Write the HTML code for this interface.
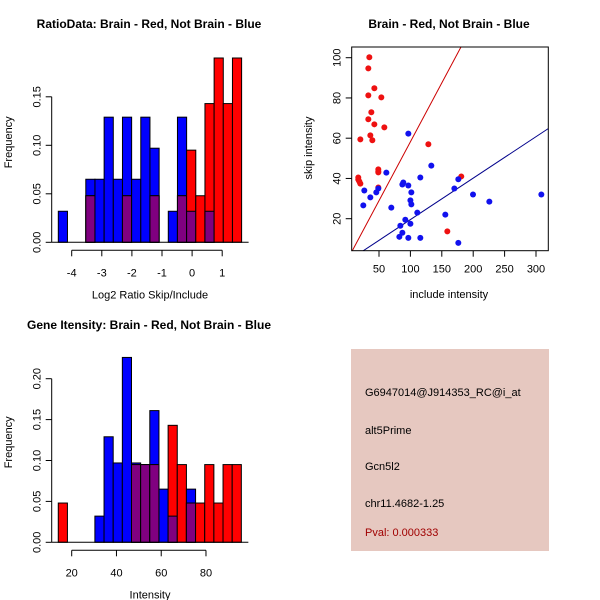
<!DOCTYPE html>
<html><head><meta charset="utf-8"><style>
html,body{margin:0;padding:0;background:#fff}
svg{display:block;font-family:"Liberation Sans",sans-serif}
</style></head><body>
<svg id="root" width="600" height="600" viewBox="0 0 600 600" xmlns="http://www.w3.org/2000/svg">
<rect width="600" height="600" fill="#fff"/>
<g id="p1"></g>
<g id="p2"></g>
<g id="p3"></g>
<g>
<rect x="351" y="349" width="198" height="202" fill="#e6c8c0"/>
<text x="365" y="396" font-size="11" fill="#000">G6947014@J914353_RC@i_at</text>
<text x="365" y="434" font-size="11" fill="#000">alt5Prime</text>
<text x="365" y="470" font-size="11" fill="#000">Gcn5l2</text>
<text x="365" y="507" font-size="11" fill="#000">chr11.4682-1.25</text>
<text x="365" y="536" font-size="11" fill="#a00000">Pval: 0.000333</text>
</g>
</svg>
<script>
const NS="http://www.w3.org/2000/svg";
// ---- Ratio histogram data ----
const ratioBinStart=-4.445, ratioBinWidth=0.3045;
const ratioBlue=[0.032,0,0,0.065,0.065,0.129,0.065,0.129,0.065,0.129,0.097,0,0.032,0.129,0.032,0,0.032,0,0,0];
const ratioRed=[0,0,0,0.048,0,0,0,0.048,0,0,0.048,0,0,0.048,0.095,0.048,0.143,0.19,0.143,0.19];
const ratioXTicks=[-4,-3,-2,-1,0,1];
const ratioYTicks=[0,0.05,0.10,0.15];
// ---- Intensity histogram data ----
const intBinStart=14.0, intBinWidth=4.09;
const intBlue=[0,0,0,0,0.032,0.129,0.097,0.226,0.097,0.095,0.161,0.065,0.032,0,0.065,0,0,0,0,0];
const intRed=[0.048,0,0,0,0,0,0,0,0.095,0.095,0.095,0,0.143,0.095,0.048,0.048,0.095,0.048,0.095,0.095];
const intXTicks=[20,40,60,80];
const intYTicks=[0,0.05,0.10,0.15,0.20];
// ---- Scatter data ----
const redInclude=[34.6,33,42.6,33,53.7,37.8,33,42.6,58.5,20.3,36.2,39.4,128.6,48.9,48.9,48.9,48.9,17,17,18.7,20.3,181,158.8];
const redSkip=[100.2,94.7,84.8,81.3,80.3,72.9,69.4,66.9,65.4,59.4,61.4,59,57,44.5,43.5,43,35.5,40.5,39.5,38.5,37.4,41,13.7];
const blueInclude=[96.7,133.3,61.7,115.8,88.7,87.2,96.7,26.6,48.9,45.7,101.5,36.2,100,101.5,25,69.6,111,176.3,170,199.7,225.7,308.5,155.6,91.9,100,84,87.2,82.4,96.7,115.8,176.3];
const blueSkip=[62.3,46.4,42.9,40.5,38,37,36.5,34,35,33.1,33.1,30.6,29.1,27.1,26.6,25.5,23,39.6,35,32,28.5,32,22,19.5,17.5,16.5,13,11,10.5,10.5,8];
const redFit=[-0.29,0.585]; // intercept, slope
const blueFit=[-1.06,0.206];
const scatXTicks=[50,100,150,200,250,300];
const scatYTicks=[20,40,60,80,100];

function mk(parent,tag,attrs){const e=document.createElementNS(NS,tag);for(const k in attrs)e.setAttribute(k,attrs[k]);parent.appendChild(e);return e;}
function txt(parent,x,y,s,size,extra){const t=mk(parent,'text',Object.assign({x:x,y:y,'font-size':size,'text-anchor':'middle',fill:'#000'},extra||{}));t.textContent=s;return t;}

function hist(gid,o){
 const g=document.getElementById(gid);
 const xs=v=>o.x0px+(v-o.x0)*o.xpu, ys=v=>o.basePx-v*o.ypu;
 const n=o.blue.length;
 for(let i=0;i<n;i++){
  const a=xs(o.start+i*o.w), b=xs(o.start+(i+1)*o.w);
  const bv=o.blue[i], rv=o.red[i], m=Math.min(bv,rv);
  if(bv>0){const r=mk(g,'rect',{x:a,y:ys(bv),width:b-a,height:ys(0)-ys(bv),fill:'#0000ff',stroke:'#000','stroke-width':1});
   
   }
  if(rv>0){const r=mk(g,'rect',{x:a,y:ys(rv),width:b-a,height:ys(0)-ys(rv),fill:'#ff0000',stroke:'#000','stroke-width':1});
   
   }
  if(m>0){const r=mk(g,'rect',{x:a,y:ys(m),width:b-a,height:ys(0)-ys(m),fill:'#800080',stroke:'#000','stroke-width':1});
   
   }
 }
 mk(g,'line',{x1:o.axisX,y1:ys(0),x2:xs(o.start+n*o.w)+7,y2:ys(0),stroke:'#000'});
 mk(g,'line',{x1:o.axisX,y1:ys(0),x2:o.axisX,y2:ys(o.yt[o.yt.length-1]),stroke:'#000'});
 o.yt.forEach(v=>{mk(g,'line',{x1:o.axisX-6,y1:ys(v),x2:o.axisX,y2:ys(v),stroke:'#000'});
  const t=txt(g,0,0,v.toFixed(2),11,{transform:`translate(${o.axisX-11},${ys(v)}) rotate(-90)`});
  
  });
 const ay=o.basePx+8;
 mk(g,'line',{x1:xs(o.xt[0]),y1:ay,x2:xs(o.xt[o.xt.length-1]),y2:ay,stroke:'#000'});
 o.xt.forEach(v=>{mk(g,'line',{x1:xs(v),y1:ay,x2:xs(v),y2:ay+6,stroke:'#000'});
  const t=txt(g,xs(v),ay+26,String(v),11);
  
  });
 const xl=txt(g,150,o.basePx+56,o.xlab,11);
 
 
 const yl=txt(g,0,0,'Frequency',11,{transform:`translate(12,${o.basePx-100}) rotate(-90)`});
 
 
 const ti=txt(g,149,o.titleY,o.title,12,{'font-weight':'bold'});
 
 
}
hist('p1',{x0:-4,x0px:71.7,xpu:30.1,basePx:242.3,ypu:970,start:ratioBinStart,w:ratioBinWidth,blue:ratioBlue,red:ratioRed,xt:ratioXTicks,yt:ratioYTicks,axisX:51.7,xlab:'Log2 Ratio Skip/Include',title:'RatioData: Brain - Red, Not Brain - Blue',titleY:28});
hist('p3',{x0:20,x0px:71.7,xpu:2.238,basePx:542.3,ypu:818,start:intBinStart,w:intBinWidth,blue:intBlue,red:intRed,xt:intXTicks,yt:intYTicks,axisX:51.7,xlab:'Intensity',title:'Gene Itensity: Brain - Red, Not Brain - Blue',titleY:329});

// scatter
(function(){
 const g=document.getElementById('p2');
 const L=351.7,R=548.3,T=47,B=250.7;
 const xs=v=>379+(v-50)*0.628, ys=v=>218.7-(v-20)*2.0125;
 const defs=mk(g,'defs',{});const cp=mk(defs,'clipPath',{id:'clip'});mk(cp,'rect',{x:L,y:T,width:R-L,height:B-T});
 const fits=[[redFit,'#cc0000','red-fit-line'],[blueFit,'#00008b','blue-fit-line']];
 fits.forEach(f=>{const x1=0,x2=400;const l=mk(g,'line',{x1:xs(x1),y1:ys(f[0][0]+f[0][1]*x1),x2:xs(x2),y2:ys(f[0][0]+f[0][1]*x2),stroke:f[1],'clip-path':'url(#clip)'});
  
  });
 redInclude.forEach((v,i)=>{const c=mk(g,'circle',{cx:xs(v),cy:ys(redSkip[i]),r:3,fill:'#ee1111'});
  
  });
 blueInclude.forEach((v,i)=>{const c=mk(g,'circle',{cx:xs(v),cy:ys(blueSkip[i]),r:3,fill:'#1111ee'});
  
  });
 mk(g,'rect',{x:L,y:T,width:R-L,height:B-T,fill:'none',stroke:'#000'});
 scatXTicks.forEach(v=>{mk(g,'line',{x1:xs(v),y1:B,x2:xs(v),y2:B+6,stroke:'#000'});
  const t=txt(g,xs(v),B+22,String(v),11);
  
  });
 scatYTicks.forEach(v=>{mk(g,'line',{x1:L-6,y1:ys(v),x2:L,y2:ys(v),stroke:'#000'});
  const t=txt(g,0,0,String(v),11,{transform:`translate(${L-11},${ys(v)}) rotate(-90)`});
  
  });
 const xl=txt(g,449,298,'include intensity',11);
 
 
 const yl=txt(g,0,0,'skip intensity',11,{transform:`translate(312,148) rotate(-90)`});
 
 
 const ti=txt(g,449,28,'Brain - Red, Not Brain - Blue',12,{'font-weight':'bold'});
 
 
})();
</script>
</body></html>
